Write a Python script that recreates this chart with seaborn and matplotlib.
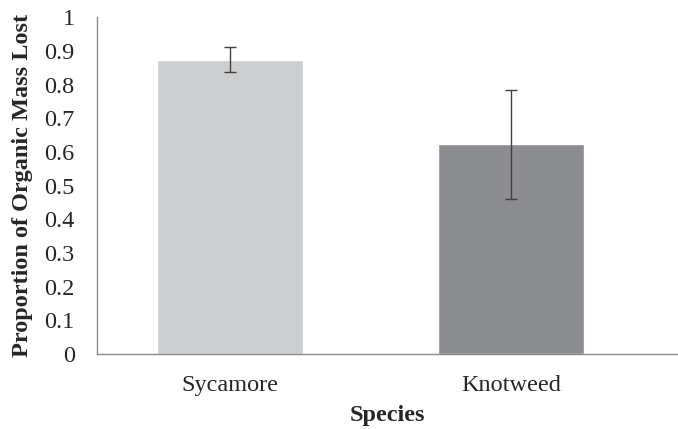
import seaborn as sns
import matplotlib.pyplot as plt

# data
species = ['Sycamore', 'Knotweed']
mass_lost = [0.874, 0.622]
err = [0.036, 0.163]
bar_colors = ['#cdced0', '#8c8d90']

sns.set_style('white')
plt.rcParams['font.family'] = ['Liberation Serif', 'DejaVu Serif']

fig = plt.figure(figsize=(6.78, 4.29), dpi=100)
ax = fig.add_axes([0.143, 0.175, 0.857, 0.785])

sns.barplot(x=species, y=mass_lost, hue=species, palette=bar_colors,
            width=0.52, errorbar=None, legend=False, ax=ax, saturation=1)

# error bars on top of the bars
ax.errorbar(x=range(len(species)), y=mass_lost, yerr=err, fmt='none',
            ecolor='#404040', elinewidth=1, capsize=4, capthick=1)

ax.set_xlim(-0.475, 1.596)
ax.set_ylim(0, 1)
ax.set_yticks([i / 10 for i in range(11)])
ax.set_yticklabels(['0'] + [f'{i / 10:.1f}' for i in range(1, 10)] + ['1'])

ax.set_xlabel('Species', fontsize=17.5, fontweight='bold', labelpad=7)
ax.set_ylabel('Proportion of Organic Mass Lost', fontsize=17.5, fontweight='bold', labelpad=8)
ax.tick_params(axis='both', labelsize=17.5, length=0)
ax.tick_params(axis='x', pad=15)
ax.tick_params(axis='y', pad=16)

sns.despine(ax=ax, top=True, right=True)
for side in ['left', 'bottom']:
    ax.spines[side].set_color('#8a8a8a')
    ax.spines[side].set_linewidth(1)

fig.savefig('out.png', dpi=100)
